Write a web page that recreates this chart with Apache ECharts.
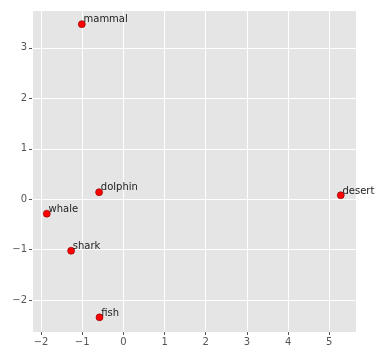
<!DOCTYPE html>
<html><head><meta charset="utf-8">
<script src="https://cdn.jsdelivr.net/npm/echarts@6/dist/echarts.min.js"></script>
<style>html,body{margin:0;padding:0;background:#fff}#c{width:378px;height:354px}</style>
</head><body><div id="c"></div>
<script>
const words = ['mammal','dolphin','whale','shark','fish','desert'];
const xs = [-1.01, -0.59, -1.86, -1.27, -0.58, 5.28];
const ys = [3.47, 0.14, -0.285, -1.02, -2.34, 0.08];
const xMin = -2.22, xMax = 5.65, yMin = -2.63, yMax = 3.75;

const fmt = v => (v < 0 ? '\u2212' + Math.abs(v) : String(v));
const axisCommon = {
  type: 'value',
  axisLine: {show: false, onZero: false},
  axisTick: {show: true, length: 3, lineStyle: {color: '#555', width: 1}},
  axisLabel: {color: '#555', fontSize: 10, fontFamily: 'DejaVu Sans', formatter: fmt, showMinLabel: false, showMaxLabel: false, margin: 5},
  splitLine: {show: true, lineStyle: {color: '#fff', width: 1}}
};
const chart = echarts.init(document.getElementById('c'), null, {renderer: 'canvas'});
chart.setOption({
  animation: false,
  grid: {left: 32, top: 10, right: 22, bottom: 22, show: true, backgroundColor: '#E5E5E5', borderWidth: 0},
  xAxis: Object.assign({}, axisCommon, {min: xMin, max: xMax, splitNumber: 8}),
  yAxis: Object.assign({}, axisCommon, {min: yMin, max: yMax, splitNumber: 6}),
  series: [{
    type: 'scatter',
    symbolSize: 7,
    itemStyle: {color: '#FF0000', borderColor: '#7a0000', borderWidth: 0.6, opacity: 1},
    data: words.map((w, i) => ({value: [xs[i], ys[i]], name: w})),
    label: {show: true, formatter: p => p.name, position: [5.5, 4.5], align: 'left', verticalAlign: 'bottom',
      color: '#222', fontSize: 10, fontFamily: 'DejaVu Sans'}
  }]
});
</script></body></html>
